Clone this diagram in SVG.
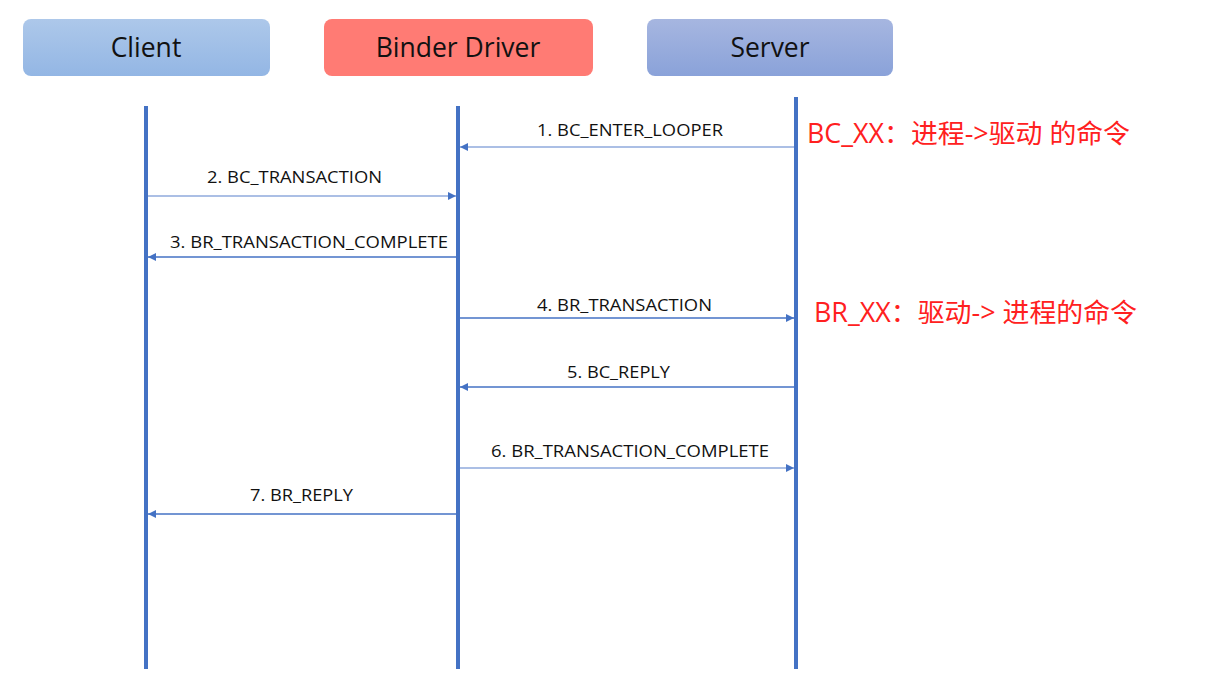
<svg xmlns="http://www.w3.org/2000/svg" width="1215" height="687" viewBox="0 0 1215 687">
<style>
.hdr{font-family:"Open Sans","Liberation Sans",sans-serif;font-size:26.5px;fill:#111;text-anchor:middle}
.lbl{font-family:"Open Sans","Liberation Sans",sans-serif;font-size:16.5px;fill:#111;text-anchor:middle}
.red{font-family:"Open Sans","Noto Sans CJK SC",sans-serif;font-size:26.5px;fill:#ff2020}
.life{stroke:#4472c4;stroke-width:4}
.light{stroke:#8faadc;stroke-width:1.3;fill:none}
.dark{stroke:#4472c4;stroke-width:1.3;fill:none}
</style>
<defs>
<linearGradient id="gc" x1="0" y1="0" x2="0" y2="1"><stop offset="0" stop-color="#adc8ea"/><stop offset="1" stop-color="#93b6e4"/></linearGradient>
<linearGradient id="gs" x1="0" y1="0" x2="0" y2="1"><stop offset="0" stop-color="#a6b6e0"/><stop offset="1" stop-color="#8aa2d9"/></linearGradient>
<marker id="ah" viewBox="0 0 10 10" refX="10" refY="5" markerWidth="8" markerHeight="8" markerUnits="userSpaceOnUse" orient="auto"><path d="M0,0L10,5L0,10z" fill="#4472c4"/></marker>
</defs>
<rect width="1215" height="687" fill="#fff"/>
<g id="client"><rect x="23" y="19" width="247" height="57" rx="8" fill="url(#gc)"/><text class="hdr" x="146" y="57">Client</text><line class="life" x1="146" y1="106" x2="146" y2="669"/></g>
<g id="binder"><rect x="324" y="19" width="269" height="57" rx="8" fill="#ff7b74"/><text class="hdr" x="458" y="57">Binder Driver</text><line class="life" x1="458" y1="106" x2="458" y2="669"/></g>
<g id="server"><rect x="647" y="19" width="246" height="57" rx="8" fill="url(#gs)"/><text class="hdr" x="770" y="57">Server</text><line class="life" x1="796" y1="97" x2="796" y2="669"/></g>
<g id="connectors">
<line class="light" x1="794" y1="147" x2="460" y2="147" marker-end="url(#ah)"/>
<text class="lbl" x="630" y="136" textLength="186" lengthAdjust="spacingAndGlyphs">1. BC_ENTER_LOOPER</text>
<line class="light" x1="148" y1="196" x2="456" y2="196" marker-end="url(#ah)"/>
<text class="lbl" x="294.5" y="183" textLength="175" lengthAdjust="spacingAndGlyphs">2. BC_TRANSACTION</text>
<line class="dark" x1="456" y1="257" x2="148" y2="257" marker-end="url(#ah)"/>
<text class="lbl" x="309" y="248" textLength="278" lengthAdjust="spacingAndGlyphs">3. BR_TRANSACTION_COMPLETE</text>
<line class="dark" x1="460" y1="318" x2="794" y2="318" marker-end="url(#ah)"/>
<text class="lbl" x="624.5" y="311" textLength="175" lengthAdjust="spacingAndGlyphs">4. BR_TRANSACTION</text>
<line class="dark" x1="794" y1="387" x2="460" y2="387" marker-end="url(#ah)"/>
<text class="lbl" x="618.5" y="378" textLength="103" lengthAdjust="spacingAndGlyphs">5. BC_REPLY</text>
<line class="light" x1="460" y1="468" x2="794" y2="468" marker-end="url(#ah)"/>
<text class="lbl" x="630" y="457" textLength="278" lengthAdjust="spacingAndGlyphs">6. BR_TRANSACTION_COMPLETE</text>
<line class="dark" x1="456" y1="514" x2="148" y2="514" marker-end="url(#ah)"/>
<text class="lbl" x="301.5" y="501" textLength="103" lengthAdjust="spacingAndGlyphs">7. BR_REPLY</text>
</g>
<text class="red" x="807" y="143" textLength="323" lengthAdjust="spacingAndGlyphs">BC_XX：进程-&gt;驱动 的命令</text>
<text class="red" x="814" y="322" textLength="323" lengthAdjust="spacingAndGlyphs">BR_XX：驱动-&gt; 进程的命令</text>
</svg>
